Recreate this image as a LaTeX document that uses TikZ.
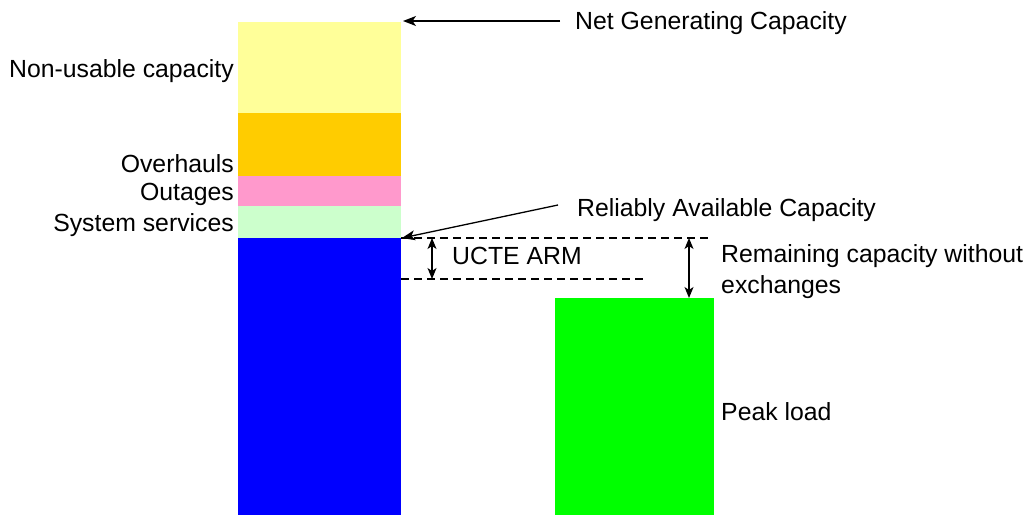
\documentclass[tikz,border=0pt]{standalone}
\usepackage{fontspec}
\setmainfont{Liberation Sans}
\usetikzlibrary{positioning, arrows.meta}

\definecolor{nonusable}{HTML}{FFFF99}
\definecolor{overhaul}{HTML}{FFCC00}
\definecolor{outage}{HTML}{FF99CC}
\definecolor{sysserv}{HTML}{CCFFCC}
\definecolor{reliable}{HTML}{0000FF}
\definecolor{peak}{HTML}{00FF00}

\tikzset{
  seg/.style={draw=none, inner sep=0pt, outer sep=0pt, minimum width=163pt},
  lbl/.style={inner sep=0pt, font=\fontsize{24.8}{31}\selectfont},
  pointer/.style={-{Stealth[length=13pt, width=10pt, inset=3.5pt]}, line width=1.3pt},
  span/.style={{Stealth[length=11pt, width=9pt, inset=3pt]}-{Stealth[length=11pt, width=9pt, inset=3pt]}, line width=1.3pt},
  level/.style={line width=1.1pt, dash pattern=on 8pt off 5pt}
}

\begin{document}
\begin{tikzpicture}[x=1pt, y=-1pt]
  \useasboundingbox (0,0) rectangle (1024,516);
  % capacity bar
  \node[seg, fill=nonusable, minimum height=91pt, anchor=north west] (nonuse) at (238,22) {};
  \node[seg, fill=overhaul, minimum height=63pt, below=0pt of nonuse] (overh) {};
  \node[seg, fill=outage, minimum height=30pt, below=0pt of overh] (outg) {};
  \node[seg, fill=sysserv, minimum height=32pt, below=0pt of outg] (syss) {};
  \node[seg, fill=reliable, minimum height=277pt, below=0pt of syss] (rac) {};
  % load bar
  \node[seg, fill=peak, minimum width=159pt, minimum height=217pt, anchor=north west] (load) at (555,298) {};

  % left labels
  \node[lbl, anchor=east] (nonuselbl) at (234,71) {Non-usable capacity};
  \node[lbl, anchor=east] (overhlbl) at (234,164) {Overhauls};
  \node[lbl, anchor=east] (outglbl) at (234,194) {Outages};
  \node[lbl, anchor=east] (sysslbl) at (234,225) {System services};

  % right labels
  \node[lbl, anchor=west] (ngc) at (575,23) {Net Generating Capacity};
  \node[lbl, anchor=west] (raclbl) at (577,210) {Reliably Available Capacity};
  \node[lbl, anchor=west] (arm) at (452,256) {UCTE ARM};
  \node[lbl, anchor=west, align=left] (remain) at (721,272) {Remaining capacity without\\exchanges};
  \node[lbl, anchor=west] (peaklbl) at (721,412) {Peak load};

  % levels
  \coordinate (armtop) at (432,238);
  \coordinate (armbot) at (432,279);
  \coordinate (remtop) at (689,238);
  \coordinate (ngcpt) at (560,21);
  \coordinate (racpt) at (558,205);
  \draw[level] (rac.north east) -- (712,238);
  \draw[level] (rac.east |- armbot) -- (645,279);

  % pointers
  \draw[pointer] (ngcpt) -- ([xshift=2pt]ngcpt -| nonuse.east);
  \draw[pointer] (racpt) -- ([xshift=1pt]rac.north east);
  \draw[span] (armtop) -- (armbot);
  \draw[span] (remtop) -- (load.north west -| remtop);
\end{tikzpicture}
\end{document}
